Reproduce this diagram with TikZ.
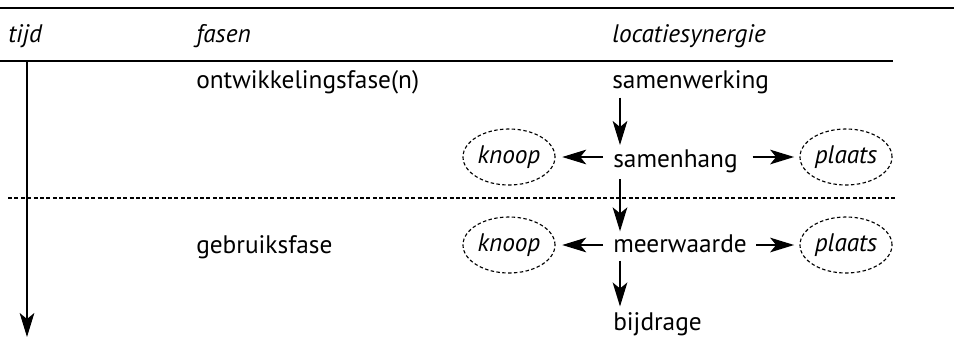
\documentclass[tikz,border=0pt]{standalone}
\usepackage{fontspec}
\setmainfont{PT Sans}
\usetikzlibrary{arrows.meta,shapes.geometric}
\tikzset{
  txt/.style={inner sep=0pt,anchor=base west,font=\fontsize{19}{22}\selectfont},
  hdr/.style={txt,font=\fontsize{19}{22}\selectfont\itshape},
  oval/.style={ellipse,draw,dash pattern=on 2.6pt off 1.8pt,line width=0.85pt,minimum width=69pt,minimum height=42pt,inner sep=0pt,font=\fontsize{19}{22}\selectfont\itshape},
  arr/.style={line width=1pt,-{Stealth[length=18pt,width=11pt,inset=4.5pt]}},
  rule/.style={line width=1pt},
  dline/.style={line width=0.8pt,dash pattern=on 3pt off 1.8pt}
}
\begin{document}
\begin{tikzpicture}[x=0.75pt,y=-0.75pt]
\useasboundingbox (0,0) rectangle (954,351);
% rules
\coordinate (r1a) at (0,8); \coordinate (r1b) at (954,8);
\coordinate (r2a) at (0,61); \coordinate (r2b) at (893,61);
\coordinate (da) at (8,198); \coordinate (db) at (895,198);
\draw[rule] (r1a) -- (r1b);
\draw[rule] (r2a) -- (r2b);
\draw[dline] (da) -- (db);
% headers
\node[hdr] (tijd) at (8,42) {tijd};
\node[hdr] (fasen) at (196,42) {fasen};
\node[hdr] (loc) at (612,42) {locatiesynergie};
% time axis
\coordinate (t0) at (27,61); \coordinate (t1) at (27,337);
\draw[arr] (t0) -- (t1);
% phases
\node[txt] (ontw) at (196,88) {ontwikkelingsfase(n)};
\node[txt] (gf) at (196,253) {gebruiksfase};
% synergy column
\node[txt] (sw) at (612,88) {samenwerking};
\node[txt] (sh) at (613,167) {samenhang};
\node[txt] (mw) at (613,252) {meerwaarde};
\node[txt] (bd) at (613,330) {bijdrage};
\node[oval] (k1) at (509,157) {knoop};
\node[oval] (p1) at (846,157) {plaats};
\node[oval] (k2) at (509,245) {knoop};
\node[oval] (p2) at (846,245) {plaats};
\coordinate (col) at (620,0);
\draw[arr,shorten <=3pt,shorten >=3pt] (sw.south -| col) -- (sh.north -| col);
\draw[arr,shorten <=5pt,shorten >=2pt] (sh.south -| col) -- (mw.north -| col);
\draw[arr,shorten <=6pt,shorten >=4pt] (mw.south -| col) -- (bd.north -| col);
\draw[arr,shorten <=7.5pt,shorten >=5pt] (k1 -| sh.west) -- (k1.east);
\draw[arr,shorten <=11pt,shorten >=4pt] (p1 -| sh.east) -- (p1.west);
\draw[arr,shorten <=7.5pt,shorten >=5pt] (k2 -| mw.west) -- (k2.east);
\draw[arr,shorten <=7pt,shorten >=4pt] (p2 -| mw.east) -- (p2.west);
\end{tikzpicture}
\end{document}
